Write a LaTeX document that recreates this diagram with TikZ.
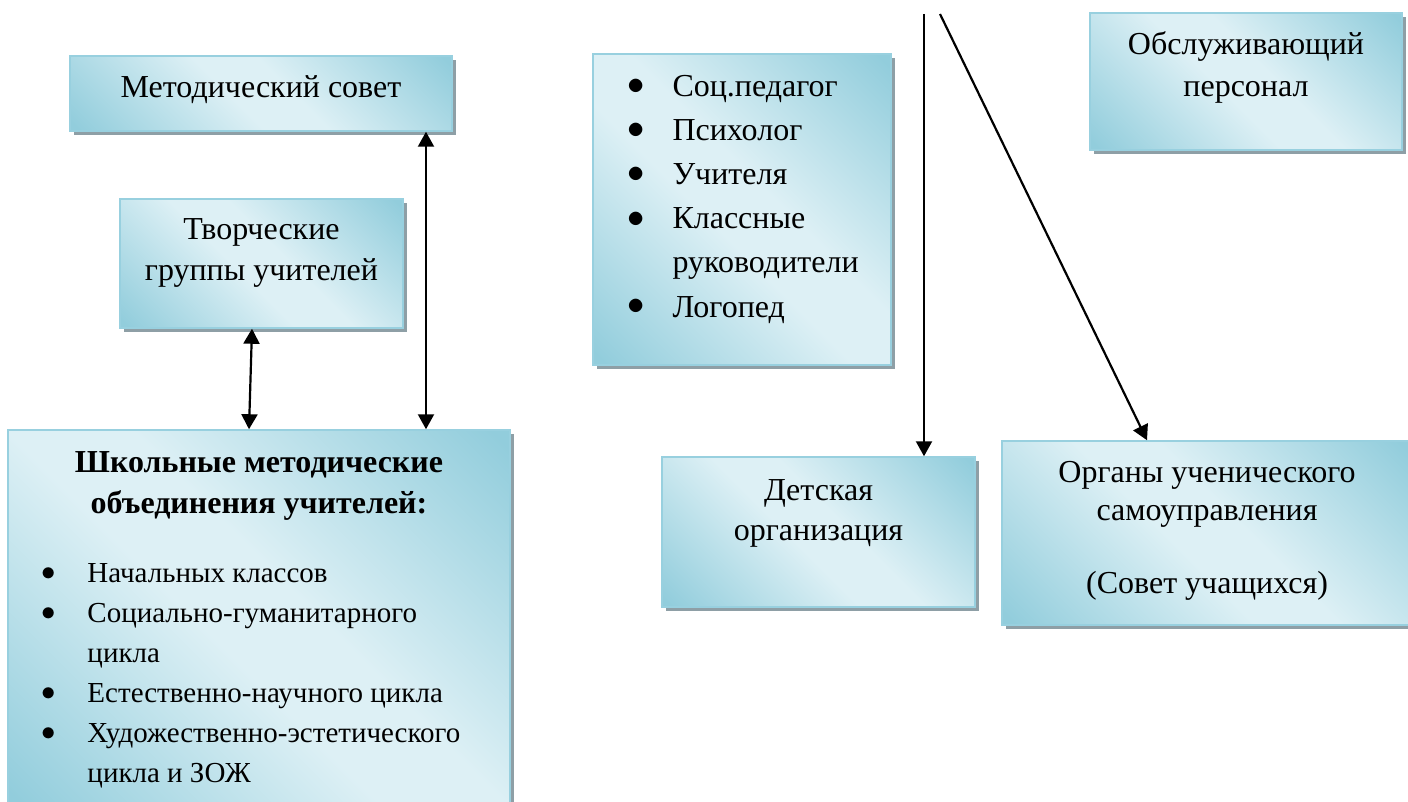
\documentclass[tikz,border=0pt]{standalone}
\usepackage{fontspec}
\setmainfont{Liberation Serif}
\usetikzlibrary{arrows.meta,shadows}
\definecolor{boxdark}{HTML}{92CDDC}
\definecolor{boxlight}{HTML}{DDF0F5}
\definecolor{boxedge}{HTML}{98D0DF}
\definecolor{boxshadow}{HTML}{8E9FA6}
\pgfdeclareverticalshading{boxfade}{100bp}{color(0bp)=(boxdark); color(16bp)=(boxdark); color(45bp)=(boxlight); color(55bp)=(boxlight); color(84bp)=(boxdark); color(100bp)=(boxdark)}
\newcommand{\inbox}[3]{\parbox[c][#2][t]{#1}{#3}}
\newcommand{\firstbase}[1]{\rule{0pt}{#1}}
\newcommand{\itm}{\hspace*{17pt}\makebox[22.75pt][l]{\raisebox{1pt}{$\bullet$}}}
\newcommand{\cnt}{\hspace*{39.75pt}}
\begin{document}
\begin{tikzpicture}[x=0.5pt,y=-0.5pt,
  unit/.style={draw=boxedge,line width=0.75pt,inner sep=0pt,shade,shading=boxfade,shading angle=-45,drop shadow={shadow xshift=2pt,shadow yshift=-2pt,fill=boxshadow,opacity=1}},
  link/.style={line width=1.1pt,black},
  tip/.style={-{Triangle[length=7.5pt,width=8pt]}},
  tips/.style={{Triangle[length=7.5pt,width=8pt]}-{Triangle[length=7.5pt,width=8pt]}}]
\useasboundingbox (0,0) rectangle (1408,802);

\node[unit] (sovet) at (261,93.5) {\inbox{191pt}{37.5pt}{\centering\fontsize{16pt}{20pt}\selectfont\firstbase{21pt}Методический совет}};

\node[unit] (tvorch) at (261.5,263.5) {\inbox{141.5pt}{64.5pt}{\centering\fontsize{16pt}{20pt}\selectfont\firstbase{20.5pt}Творческие\\группы учителей}};

\node[unit] (spec) at (742,209.5) {\inbox{149pt}{155.5pt}{\raggedright\fontsize{16pt}{22pt}\selectfont\firstbase{21.5pt}\itm Соц.педагог\\\itm Психолог\\\itm Учителя\\\itm Классные\\\cnt руководители\\\itm Логопед}};

\node[unit] (obsl) at (1246,81.5) {\inbox{156pt}{68.5pt}{\centering\fontsize{16pt}{21pt}\selectfont\firstbase{21pt}Обслуживающий\\персонал}};

\node[unit] (detsk) at (818.5,532) {\inbox{156.5pt}{75pt}{\centering\fontsize{16pt}{20pt}\selectfont\firstbase{21.5pt}Детская\\организация}};

\node[unit] (organy) at (1207,533) {\inbox{205pt}{92pt}{\centering\fontsize{16pt}{19pt}\selectfont\firstbase{20.5pt}Органы ученического\\самоуправления\\[17.5pt](Совет учащихся)}};

\node[unit] (shmo) at (259,620) {\inbox{251pt}{190pt}{{\centering\bfseries\fontsize{16pt}{20.5pt}\selectfont\firstbase{21pt}Школьные методические\\объединения учителей:\par}\vspace{14.5pt}{\raggedright\fontsize{14.5pt}{20pt}\selectfont\itm Начальных классов\\\itm Социально-гуманитарного\\\cnt цикла\\\itm Естественно-научного цикла\\\itm Художественно-эстетического\\\cnt цикла и ЗОЖ\par}}};

\draw[link,tips] ([xshift=82.5pt]sovet.south) -- ([xshift=83.5pt]shmo.north);
\draw[link,tips] ([xshift=-4.75pt]tvorch.south) -- ([xshift=-5pt]shmo.north);

\coordinate (topA) at (924,14);
\coordinate (topB) at (940,14);
\draw[link,tip] (topA) -- (topA |- detsk.north);
\draw[link,tip] (topB) -- ([xshift=-30pt]organy.north);
\end{tikzpicture}
\end{document}
